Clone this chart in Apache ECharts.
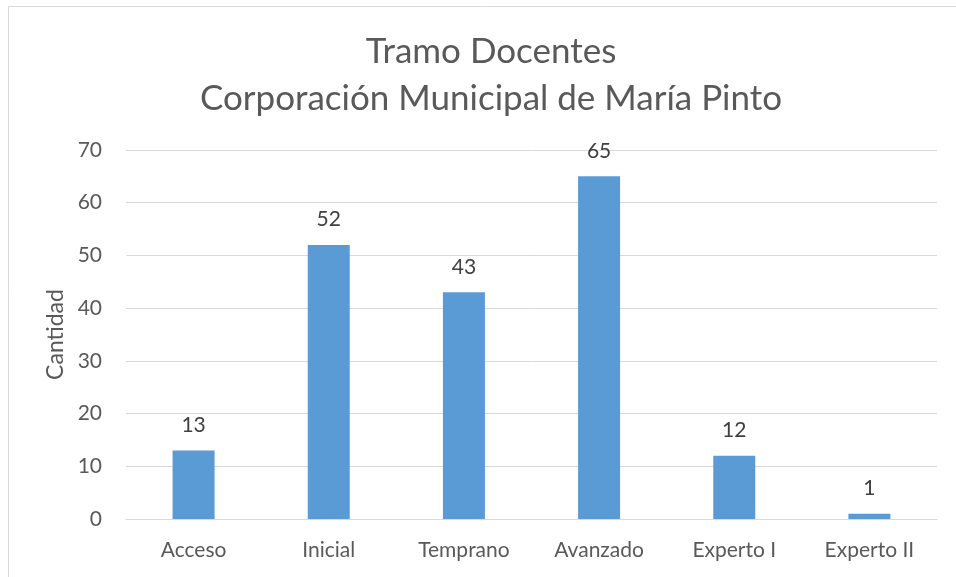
<!DOCTYPE html>
<html><head><meta charset="utf-8">
<script src="https://cdn.jsdelivr.net/npm/echarts@6/dist/echarts.min.js"></script>
<style>html,body{margin:0;padding:0;background:#fff}#c{width:956px;height:577px}</style>
</head><body><div id="c"></div>
<script>
const categories = ["Acceso", "Inicial", "Temprano", "Avanzado", "Experto I", "Experto II"];
const values = [13, 52, 43, 65, 12, 1];
const titleLines = ["Tramo Docentes", "Corporación Municipal de María Pinto"];
const yAxisName = "Cantidad";

const chart = echarts.init(document.getElementById('c'), null, {renderer: 'canvas'});
const font = "Lato, 'Open Sans', sans-serif";
chart.setOption({
  animation: false,
  backgroundColor: '#fff',
  graphic: [{
    type: 'rect', left: 6, top: 4, shape: {width: 960, height: 590},
    style: {fill: 'none', stroke: '#d9d9d9', lineWidth: 1}, silent: true
  }],
  title: {
    text: titleLines.join('\n'),
    left: 486, top: 23, textAlign: 'center',
    textStyle: {fontFamily: font, fontSize: 35, fontWeight: 'normal', color: '#595959', lineHeight: 47}
  },
  grid: {left: 126, right: 19, top: 150, bottom: 58},
  xAxis: {
    type: 'category', data: categories,
    axisLine: {show: true, lineStyle: {color: '#d9d9d9'}},
    axisTick: {show: false},
    axisLabel: {fontFamily: font, fontSize: 21, color: '#595959', margin: 21}
  },
  yAxis: {
    type: 'value', min: 0, max: 70, interval: 10,
    name: yAxisName, nameLocation: 'middle', nameGap: 51,
    nameTextStyle: {fontFamily: font, fontSize: 23, color: '#595959'},
    axisLine: {show: false}, axisTick: {show: false},
    axisLabel: {fontFamily: font, fontSize: 21, color: '#595959', margin: 24},
    splitLine: {lineStyle: {color: '#d9d9d9', width: 1}}
  },
  series: [{
    type: 'bar', data: values, barWidth: 42,
    itemStyle: {color: '#5b9bd5'},
    label: {show: true, position: 'top', distance: 15, fontFamily: font, fontSize: 21, color: '#404040'}
  }]
});
</script></body></html>
